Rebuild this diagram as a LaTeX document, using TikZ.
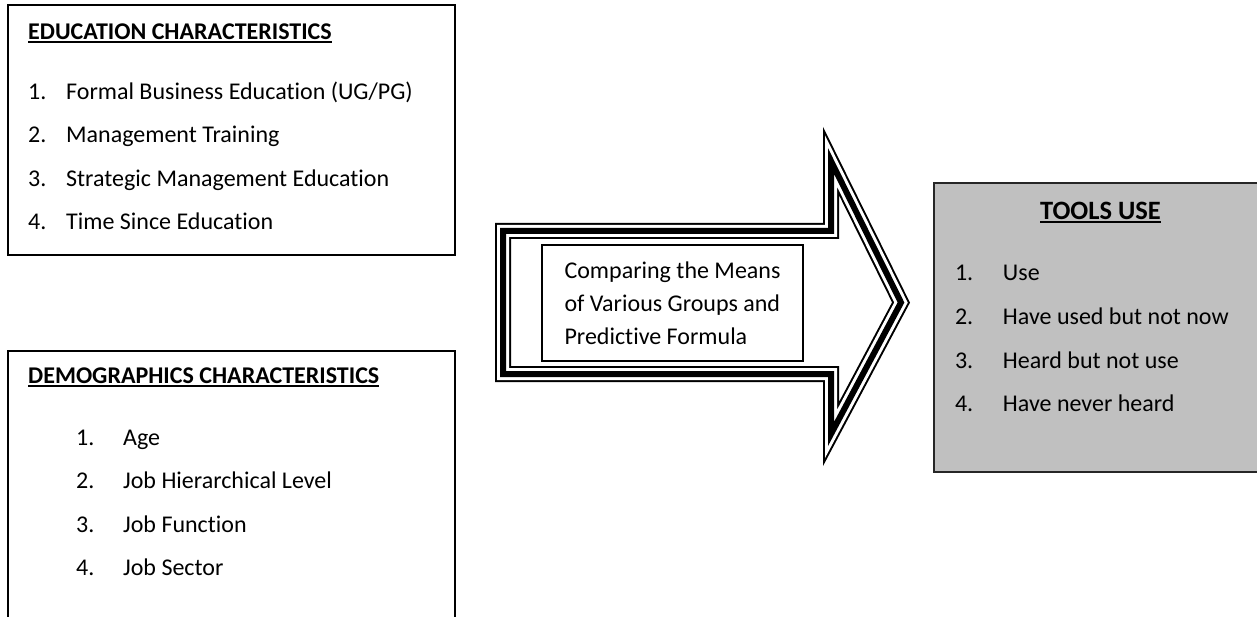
\documentclass[tikz,border=0pt]{standalone}
\usepackage{fontspec}
\setmainfont{Carlito}[Ligatures=NoCommon]
\definecolor{toolgray}{RGB}{192,192,192}
\newcommand{\headul}[1]{\setbox0\hbox{#1}\rlap{\rule[-3.4pt]{\wd0}{2pt}}\box0}
\tikzstyle{charbox} = [rectangle, draw=black, line width=1.6pt, inner sep=0pt]
\tikzstyle{toolbox} = [rectangle, draw=black!85, line width=1.6pt, fill=toolgray, inner sep=0pt]
\tikzstyle{head} = [inner sep=0pt, text height=17pt, text depth=6pt, align=flush left, font=\fontsize{24}{33}\selectfont\bfseries]
\tikzstyle{entry} = [inner sep=0pt, text height=17pt, text depth=6pt, align=flush left, font=\fontsize{24}{33}\selectfont]
\tikzstyle{meansbox} = [rectangle, draw=black, line width=1.2pt, fill=white, minimum width=261pt, minimum height=116pt, align=flush left, font=\fontsize{24}{33}\selectfont]
\tikzstyle{fatarrow} = [draw=black, line width=16pt, line join=miter, postaction={draw=white, line width=12pt, line join=miter}, postaction={draw=black, line width=6pt, line join=miter}]

\begin{document}
\begin{tikzpicture}[x=1pt, y=-1pt, node distance=43.5pt]
\useasboundingbox (0,0) rectangle (1257,617);
\clip (0,0) rectangle (1257,617);
% boxes
\node (edu) [charbox, minimum width=447pt, minimum height=250pt] at (231.5,130) {};
\node (demo) [charbox, minimum width=447pt, minimum height=300pt] at (231.5,501) {};
\node (tools) [toolbox, minimum width=356pt, minimum height=289pt] at (1112,327.5) {};
% education
\node (eduhd) [head, text width=400pt, anchor=base west] at (28,39.5) {\headul{EDUCATION CHARACTERISTICS}};
\node (edu1) [entry, text width=400pt, below of=eduhd, node distance=60pt] {\makebox[38pt][l]{1.}Formal Business Education (UG/PG)};
\node (edu2) [entry, text width=400pt, below of=edu1] {\makebox[38pt][l]{2.}Management Training};
\node (edu3) [entry, text width=400pt, below of=edu2] {\makebox[38pt][l]{3.}Strategic Management Education};
\node (edu4) [entry, text width=400pt, below of=edu3] {\makebox[38pt][l]{4.}Time Since Education};
% demographics
\node (demhd) [head, text width=400pt, anchor=base west] at (28,383.5) {\headul{DEMOGRAPHICS CHARACTERISTICS}};
\node (dem1) [entry, text width=352pt, below of=demhd, node distance=61.5pt, xshift=24pt] {\makebox[47pt][l]{1.}Age};
\node (dem2) [entry, text width=352pt, below of=dem1] {\makebox[47pt][l]{2.}Job Hierarchical Level};
\node (dem3) [entry, text width=352pt, below of=dem2] {\makebox[47pt][l]{3.}Job Function};
\node (dem4) [entry, text width=352pt, below of=dem3] {\makebox[47pt][l]{4.}Job Sector};
% tools use
\node (toolhd) [head, text width=312pt, align=flush center, anchor=base, font=\fontsize{26.5}{33}\selectfont\bfseries] at (1100.5,219.5) {\headul{TOOLS USE}};
\node (tool1) [entry, text width=312pt, below of=toolhd, node distance=61.5pt, xshift=10.5pt] {\makebox[48pt][l]{1.}Use};
\node (tool2) [entry, text width=312pt, below of=tool1] {\makebox[48pt][l]{2.}Have used but not now};
\node (tool3) [entry, text width=312pt, below of=tool2] {\makebox[48pt][l]{3.}Heard but not use};
\node (tool4) [entry, text width=312pt, below of=tool3] {\makebox[48pt][l]{4.}Have never heard};
% big arrow
\draw [fatarrow] (503,231) -- (831,231) -- (831,161) -- (901,302.5) -- (831,434) -- (831,374) -- (503,374) -- cycle;
\node (means) [meansbox] at (672.5,303) {Comparing the Means\\of Various Groups and\\Predictive Formula};
\end{tikzpicture}
\end{document}
